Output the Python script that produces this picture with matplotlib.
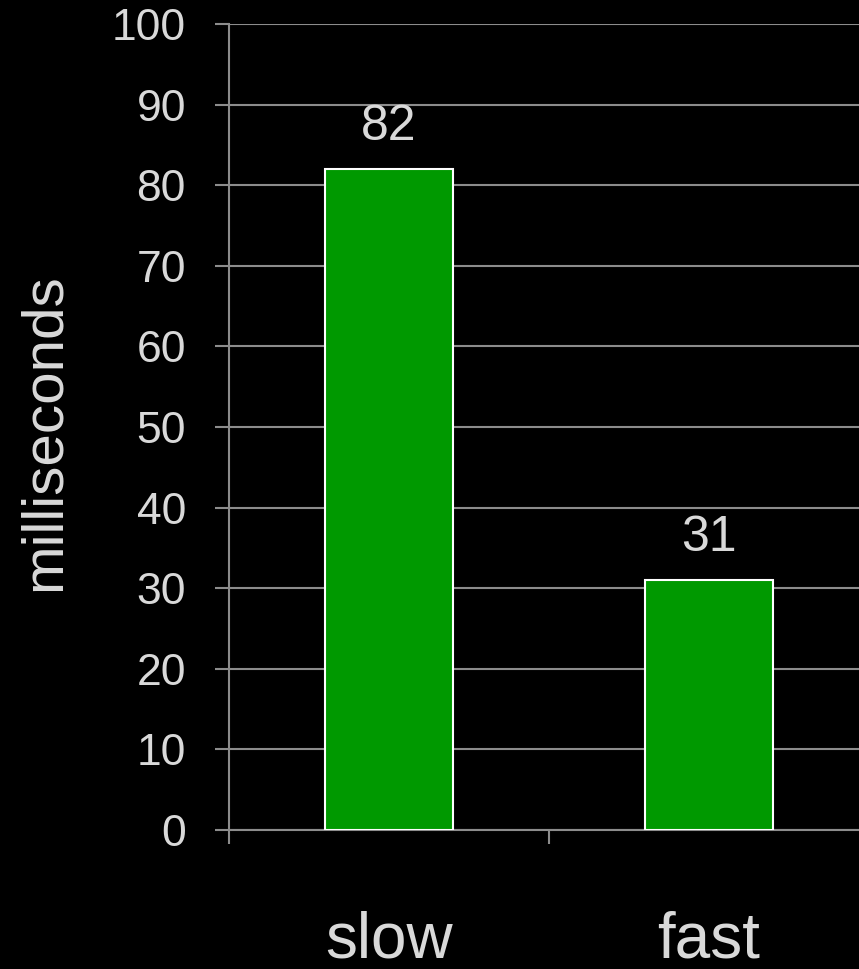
import matplotlib.pyplot as plt

# data
categories = ['slow', 'fast']
values = [82, 31]
yticks = [0, 10, 20, 30, 40, 50, 60, 70, 80, 90, 100]

text_color = '#d9d9d9'
line_color = '#8c8c8c'
bar_color = '#009900'

plt.rcParams['font.family'] = ['Liberation Sans', 'DejaVu Sans']

fig = plt.figure(figsize=(8.59, 9.69), dpi=100, facecolor='black')
ax = fig.add_axes([229 / 859, 1 - 830 / 969, 640 / 859, (830 - 24) / 969])
ax.set_facecolor('black')

x = list(range(len(categories)))
ax.bar(x, values, width=0.4, color=bar_color, edgecolor='white', linewidth=1.5, zorder=3)

for xi, v in zip(x, values):
    ax.annotate(str(v), (xi, v), xytext=(0, 30), textcoords='offset points',
                ha='center', va='center', fontsize=36, color=text_color)

ax.set_xlim(-0.5, len(categories) - 0.5)
ax.set_ylim(0, 100)
ax.set_yticks(yticks)
ax.set_yticklabels([str(t) for t in yticks], fontsize=32, color=text_color)

# boundary ticks between categories, labels centred under bars
ax.set_xticks([i - 0.5 for i in range(len(categories) + 1)])
ax.set_xticklabels([])
ax.set_xticks(x, minor=True)
ax.set_xticklabels(categories, minor=True, fontsize=46, color=text_color)
ax.tick_params(axis='x', which='minor', length=0, pad=58)
ax.tick_params(axis='x', which='major', length=10, width=1.5, color=line_color, direction='out')
ax.tick_params(axis='y', length=10, width=1.5, color=line_color, direction='out', pad=21)

ax.yaxis.grid(True, color=line_color, linewidth=1.5, zorder=0)
ax.set_axisbelow(True)

for s in ['top', 'right']:
    ax.spines[s].set_visible(False)
for s in ['left', 'bottom']:
    ax.spines[s].set_color(line_color)
    ax.spines[s].set_linewidth(1.5)

fig.text(45 / 859, 1 - 432 / 969, 'milliseconds', rotation=90, ha='center', va='center',
         fontsize=42, color=text_color)

fig.savefig('out.png', dpi=100, facecolor='black')
